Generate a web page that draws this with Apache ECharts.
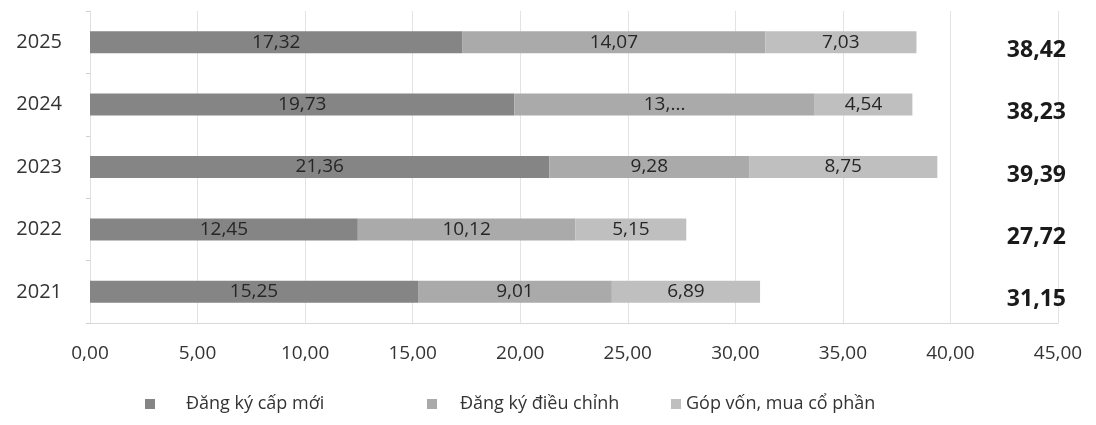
<!DOCTYPE html>
<html>
<head>
<meta charset="utf-8">
<script src="https://cdn.jsdelivr.net/npm/echarts@6/dist/echarts.min.js"></script>
<style>
  html, body { margin: 0; padding: 0; background: #fff; }
  #chart { width: 1096px; height: 425px; }
</style>
</head>
<body>
<div id="chart"></div>
<script>
// Years, bottom to top
const years = ['2021', '2022', '2023', '2024', '2025'];
// Capital by type (same order as years)
const newRegistration = [15.25, 12.45, 21.36, 19.73, 17.32];
const adjustedRegistration = [9.01, 10.12, 9.28, 13.96, 14.07];
const capitalContribution = [6.89, 5.15, 8.75, 4.54, 7.03];
// Label text shown on the bars of the second series
const adjustedLabels = ['9,01', '10,12', '9,28', '13,...', '14,07'];
const seriesNames = ['Đăng ký cấp mới', 'Đăng ký điều chỉnh', 'Góp vốn, mua cổ phần'];

const fmt = v => v.toFixed(2).replace('.', ',');
const totals = years.map((_, i) => newRegistration[i] + adjustedRegistration[i] + capitalContribution[i]);

const FONT = 'Open Sans';
const chart = echarts.init(document.getElementById('chart'));

const labelStyle = {
  show: true,
  position: 'inside',
  color: '#262626',
  fontFamily: FONT,
  fontSize: 19
};

// One legend block per series so each entry can sit at its own spot
const legendEntry = (name, left, textGap) => ({
  bottom: 7,
  left: left,
  itemWidth: 10,
  itemHeight: 10,
  icon: 'rect',
  data: [name],
  textStyle: { fontFamily: FONT, fontSize: 18, color: '#333', padding: [0, 0, 0, textGap] }
});

chart.setOption({
  animation: false,
  textStyle: { fontFamily: FONT },
  grid: { left: 90, right: 38, top: 11, bottom: 102, containLabel: false },
  legend: [
    legendEntry(seriesNames[0], 140, 26),
    legendEntry(seriesNames[1], 422, 18),
    legendEntry(seriesNames[2], 666, 0)
  ],
  xAxis: {
    type: 'value',
    min: 0,
    max: 45,
    interval: 5,
    axisLine: { show: true, lineStyle: { color: '#d9d9d9' } },
    axisTick: { show: false },
    splitLine: { show: true, lineStyle: { color: '#e3e3e3' } },
    axisLabel: {
      formatter: v => fmt(v),
      color: '#333',
      fontSize: 19,
      fontFamily: FONT,
      margin: 21
    }
  },
  yAxis: [
    {
      type: 'category',
      data: years,
      axisLine: { show: true, lineStyle: { color: '#e0e0e0' } },
      axisTick: { show: true, length: 4, lineStyle: { color: '#cfcfcf' } },
      axisLabel: { color: '#333', fontSize: 20, fontFamily: FONT, margin: 28 }
    },
    {
      type: 'category',
      data: years,
      position: 'right',
      axisLine: { show: false },
      axisTick: { show: false },
      axisLabel: {
        inside: true,
        margin: -8,
        formatter: (v, i) => '{t|' + fmt(totals[i]) + '}',
        rich: {
          t: {
            color: '#1a1a1a',
            fontWeight: 'bold',
            fontSize: 23,
            fontFamily: FONT,
            padding: [16, 0, 0, 0]
          }
        }
      }
    }
  ],
  series: [
    {
      name: seriesNames[0],
      type: 'bar',
      stack: 'total',
      barWidth: 22,
      data: newRegistration,
      itemStyle: { color: '#858585' },
      label: Object.assign({}, labelStyle, { formatter: p => fmt(p.value) })
    },
    {
      name: seriesNames[1],
      type: 'bar',
      stack: 'total',
      barWidth: 22,
      data: adjustedRegistration,
      itemStyle: { color: '#aaaaaa' },
      label: Object.assign({}, labelStyle, { formatter: p => adjustedLabels[p.dataIndex] })
    },
    {
      name: seriesNames[2],
      type: 'bar',
      stack: 'total',
      barWidth: 22,
      data: capitalContribution,
      itemStyle: { color: '#bfbfbf' },
      label: Object.assign({}, labelStyle, { formatter: p => fmt(p.value) })
    }
  ]
});
</script>
</body>
</html>
